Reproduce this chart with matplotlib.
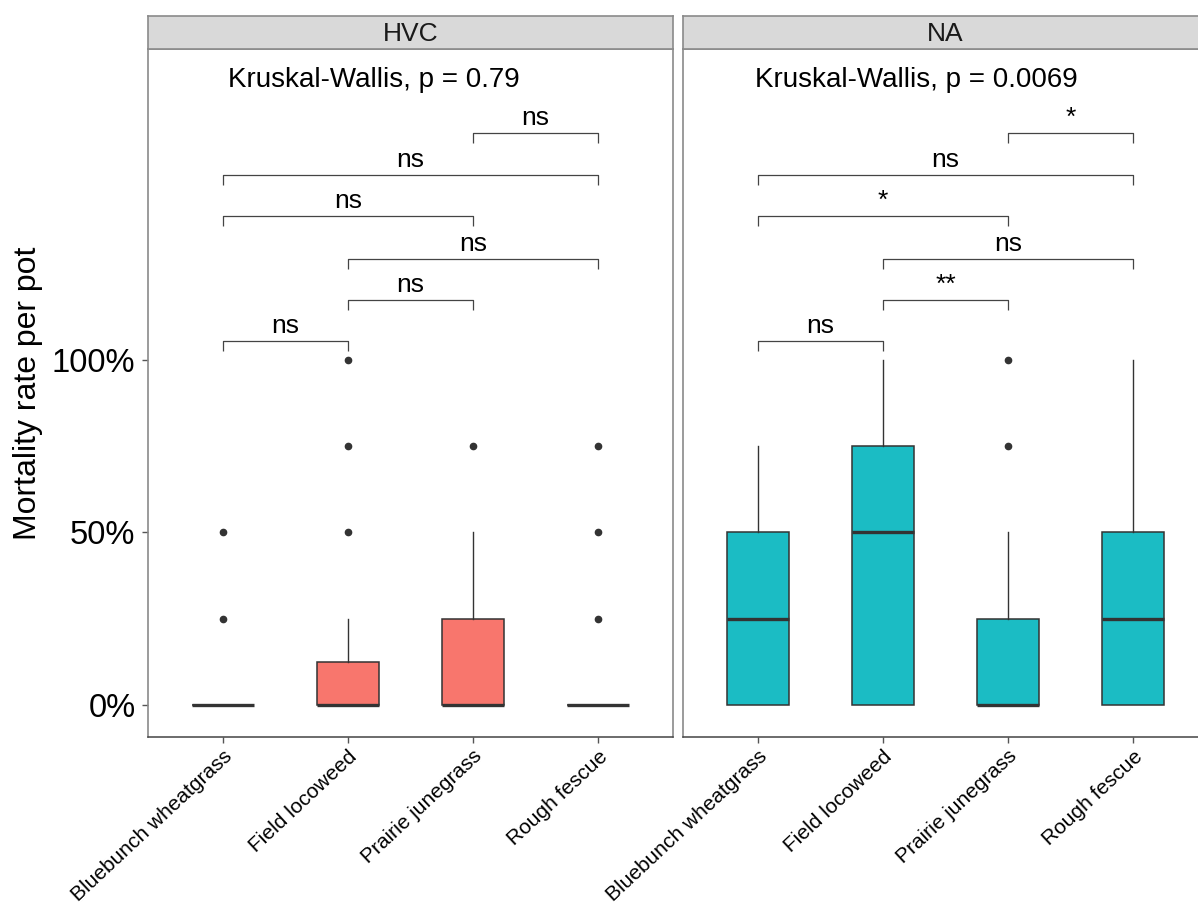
import matplotlib
matplotlib.use("Agg")
import matplotlib.pyplot as plt
import matplotlib.transforms as mtransforms
from matplotlib.ticker import FuncFormatter

plt.rcParams["font.family"] = ["Liberation Sans", "DejaVu Sans"]

# ---- data ----
species = ["Bluebunch wheatgrass", "Field locoweed", "Prairie junegrass", "Rough fescue"]
panels = ["HVC", "NA"]

hvc_q1 = [0.0, 0.0, 0.0, 0.0]
hvc_med = [0.0, 0.0, 0.0, 0.0]
hvc_q3 = [0.0, 0.125, 0.25, 0.0]
hvc_whislo = [0.0, 0.0, 0.0, 0.0]
hvc_whishi = [0.0, 0.25, 0.5, 0.0]
hvc_fliers = [[0.25, 0.5], [0.5, 0.75, 1.0], [0.75], [0.25, 0.5, 0.75]]

na_q1 = [0.0, 0.0, 0.0, 0.0]
na_med = [0.25, 0.5, 0.0, 0.25]
na_q3 = [0.5, 0.75, 0.25, 0.5]
na_whislo = [0.0, 0.0, 0.0, 0.0]
na_whishi = [0.75, 1.0, 0.5, 1.0]
na_fliers = [[], [], [0.75, 1.0], []]

comparisons = [(1, 2), (2, 3), (2, 4), (1, 3), (1, 4), (3, 4)]
bracket_y = [1.055, 1.174, 1.293, 1.417, 1.536, 1.658]
hvc_signif = ["ns", "ns", "ns", "ns", "ns", "ns"]
na_signif = ["ns", "**", "ns", "*", "ns", "*"]

kw_labels = ["Kruskal-Wallis, p = 0.79", "Kruskal-Wallis, p = 0.0069"]
kw_x = [1.04, 0.975]

fills = ["#F8766D", "#1BBCC4"]

# ---- layout (pixel based) ----
W, H = 1198, 907
fig = plt.figure(figsize=(W / 100, H / 100), dpi=100)


def px_box(x0, y_top, w, h):
    return [x0 / W, (H - y_top - h) / H, w / W, h / H]


panel_left = [148, 683]
panel_w = 525
panel_top, panel_bottom = 49, 737
strip_top = 16

data_sets = [
    (hvc_q1, hvc_med, hvc_q3, hvc_whislo, hvc_whishi, hvc_fliers, hvc_signif),
    (na_q1, na_med, na_q3, na_whislo, na_whishi, na_fliers, na_signif),
]

edge = "#333333"
border = "#8a8a8a"

for i, (name, ds) in enumerate(zip(panels, data_sets)):
    q1, med, q3, wlo, whi, fl, signif = ds
    ax = fig.add_axes(px_box(panel_left[i], panel_top, panel_w, panel_bottom - panel_top))

    stats = []
    for k in range(len(species)):
        stats.append({
            "q1": q1[k], "med": med[k], "q3": q3[k],
            "whislo": wlo[k], "whishi": whi[k], "fliers": fl[k],
        })
    positions = list(range(1, len(species) + 1))
    ax.bxp(
        stats, positions=positions, widths=0.5, patch_artist=True,
        showcaps=False,
        boxprops=dict(facecolor=fills[i], edgecolor=edge, linewidth=1.1),
        medianprops=dict(color=edge, linewidth=2.4, solid_capstyle="butt"),
        whiskerprops=dict(color=edge, linewidth=1.0),
        flierprops=dict(marker="o", markersize=4.5, markerfacecolor=edge,
                        markeredgecolor=edge, linestyle="none"),
    )

    # pairwise comparison brackets
    tip = 0.03
    for (a, b), y, lab in zip(comparisons, bracket_y, signif):
        ax.plot([a, a, b, b], [y - tip, y, y, y - tip], color="#444444",
                linewidth=0.9, solid_capstyle="butt")
        ax.text((a + b) / 2, y + 0.008, lab, ha="center", va="bottom",
                fontsize=19, color="black")

    ax.text(kw_x[i], 1.79, kw_labels[i], ha="left", va="baseline",
            fontsize=20, color="black")

    ax.set_xlim(0.4, 4.6)
    ax.set_ylim(-0.093, 1.901)
    ax.set_yticks([0, 0.5, 1.0])
    ax.yaxis.set_major_formatter(FuncFormatter(lambda v, p: f"{v * 100:.0f}%"))
    ax.set_xticks(positions)
    ax.set_xticklabels(species, rotation=43, ha="right", va="top",
                       rotation_mode="anchor", fontsize=15)
    offset = mtransforms.ScaledTranslation(7 / 100, 0, fig.dpi_scale_trans)
    for lbl in ax.get_xticklabels():
        lbl.set_transform(lbl.get_transform() + offset)

    ax.tick_params(axis="x", length=4, width=1, color="#555555", pad=3)
    ax.tick_params(axis="y", length=4, width=1, color="#555555", pad=5,
                   labelsize=23.5)
    if i == 1:
        ax.tick_params(axis="y", left=False, labelleft=False)

    for side in ["top", "right", "left"]:
        ax.spines[side].set_color(border)
        ax.spines[side].set_linewidth(1.2)
    ax.spines["bottom"].set_color("#444444")
    ax.spines["bottom"].set_linewidth(1.1)

    # facet strip
    sax = fig.add_axes(px_box(panel_left[i], strip_top, panel_w, panel_top - strip_top))
    sax.set_facecolor("#d9d9d9")
    sax.set_xticks([])
    sax.set_yticks([])
    for sp in sax.spines.values():
        sp.set_color(border)
        sp.set_linewidth(1.2)
    sax.text(0.5, 0.45, name, ha="center", va="center", fontsize=19,
             color="#1a1a1a", transform=sax.transAxes)

fig.text(28 / W, 1 - 393 / H, "Mortality rate per pot", rotation=90,
         ha="center", va="center", fontsize=23)

fig.savefig("out.png", dpi=100)
